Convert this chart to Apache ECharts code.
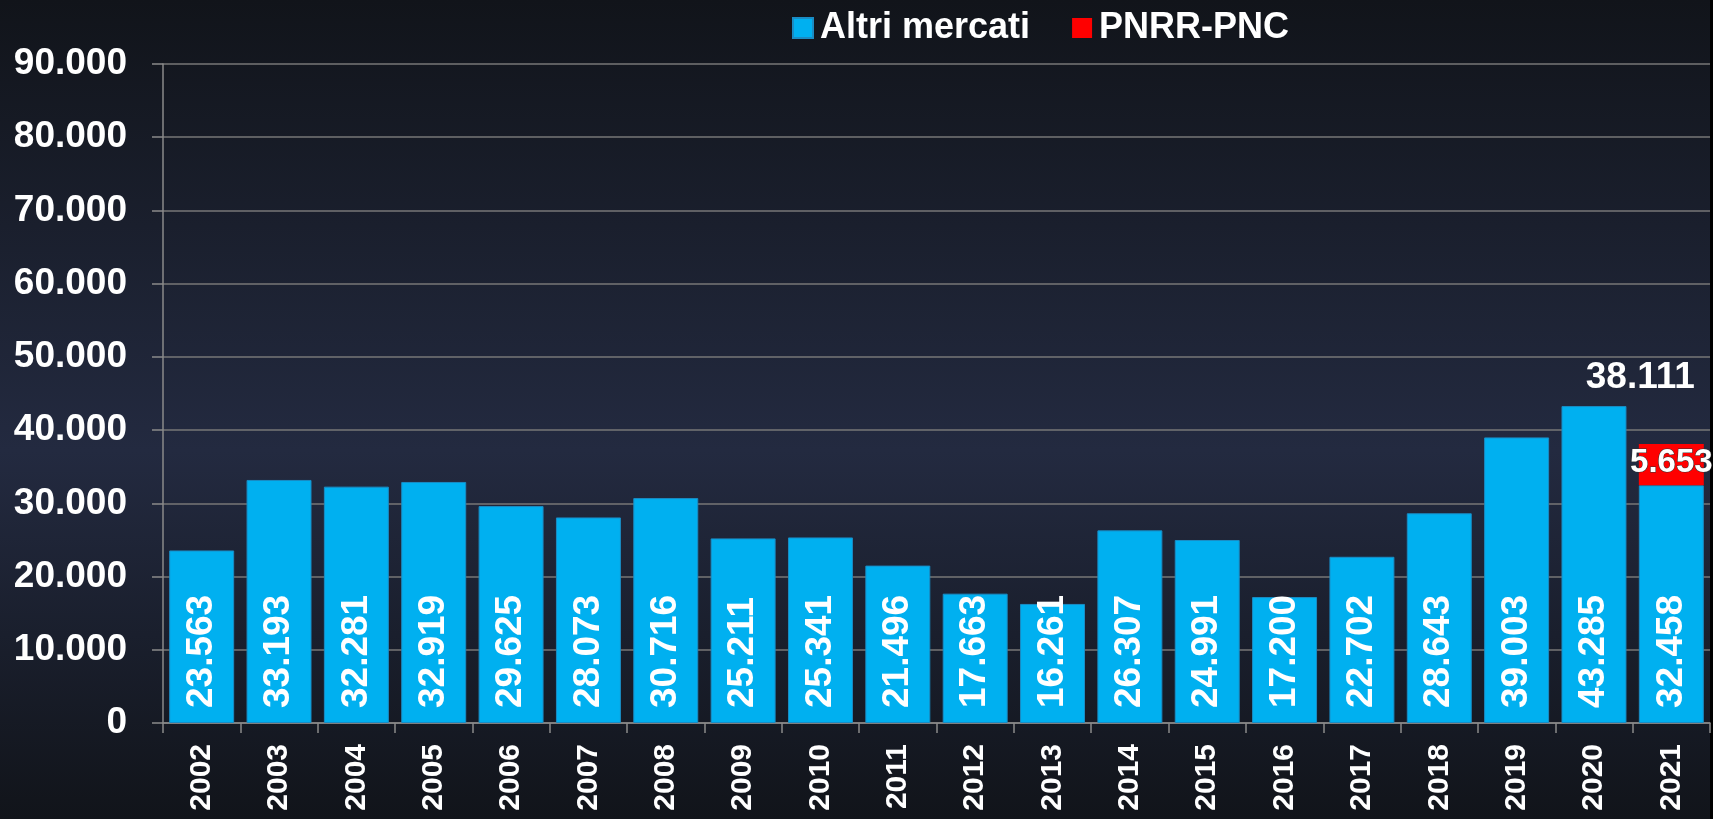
<!DOCTYPE html>
<html>
<head>
<meta charset="utf-8">
<script src="https://cdn.jsdelivr.net/npm/echarts@6/dist/echarts.min.js"></script>
<style>
	html, body { margin: 0; padding: 0; background: #11141a; }
	#chart { width: 1713px; height: 819px; }
</style>
</head>
<body>
<div id="chart"></div>
<script>
	// dati
	var anni = ['2002','2003','2004','2005','2006','2007','2008','2009','2010','2011','2012','2013','2014','2015','2016','2017','2018','2019','2020','2021'];
	var altriMercati = [23563, 33193, 32281, 32919, 29625, 28073, 30716, 25211, 25341, 21496, 17663, 16261, 26307, 24991, 17200, 22702, 28643, 39003, 43285, 32458];
	var pnrrPnc = [null, null, null, null, null, null, null, null, null, null, null, null, null, null, null, null, null, null, null, 5653];
	var yTicks = [0, 10000, 20000, 30000, 40000, 50000, 60000, 70000, 80000, 90000];

	var font = '"Liberation Sans", Arial, sans-serif';

	// separatore delle migliaia con il punto
	function fmt(v) {
		return String(Math.round(v)).replace(/\B(?=(\d{3})+(?!\d))/g, '.');
	}

	var last = anni.length - 1;
	var totale2021 = altriMercati[last] + pnrrPnc[last];

	var chart = echarts.init(document.getElementById('chart'));
	chart.setOption({
		backgroundColor: new echarts.graphic.LinearGradient(0, 0, 0, 1, [
			{ offset: 0, color: '#11141a' },
			{ offset: 0.55, color: '#232a40' },
			{ offset: 1, color: '#11141a' }
		]),
		animation: false,
		graphic: [{
			type: 'rect',
			right: 0, top: 0,
			shape: { width: 3, height: 819 },
			style: { fill: '#000' }
		}],
		legend: {
			data: ['Altri mercati', 'PNRR-PNC'],
			left: 787,
			top: 5,
			itemWidth: 20,
			itemHeight: 20,
			itemGap: 42,
			icon: 'rect',
			textStyle: {
				color: '#fff',
				fontFamily: font,
				fontWeight: 'bold',
				fontSize: 36,
				lineHeight: 36,
				padding: [0, 0, 0, 2]
			}
		},
		grid: {
			left: 163,
			right: 3,
			top: 64,
			bottom: 96
		},
		xAxis: {
			type: 'category',
			data: anni,
			axisLine: { lineStyle: { color: '#8a8a8a', width: 1.5 } },
			axisTick: { show: true, length: 10, lineStyle: { color: '#8a8a8a', width: 1.5 } },
			axisLabel: {
				rotate: 90,
				margin: 21,
				color: '#fff',
				fontFamily: font,
				fontWeight: 'bold',
				fontSize: 30
			}
		},
		yAxis: {
			type: 'value',
			min: yTicks[0],
			max: yTicks[yTicks.length - 1],
			interval: 10000,
			axisLine: { show: true, lineStyle: { color: '#8a8a8a', width: 1.5 } },
			axisTick: { show: true, length: 11, lineStyle: { color: '#8a8a8a', width: 1.5 } },
			splitLine: { lineStyle: { color: '#777', width: 1.5 } },
			axisLabel: {
				margin: 36,
				color: '#fff',
				fontFamily: font,
				fontWeight: 'bold',
				fontSize: 37,
				formatter: function (v) { return fmt(v); }
			}
		},
		series: [{
			name: 'Altri mercati',
			type: 'bar',
			stack: 'tot',
			data: altriMercati,
			barCategoryGap: '16%',
			itemStyle: { color: '#00b0f0', borderColor: '#1a8cc4', borderWidth: 1 },
			label: {
				show: true,
				position: 'insideBottom',
				rotate: 90,
				align: 'left',
				verticalAlign: 'middle',
				distance: 15,
				color: '#fff',
				fontFamily: font,
				fontWeight: 'bold',
				fontSize: 37,
				formatter: function (p) { return fmt(p.value); }
			}
		}, {
			name: 'PNRR-PNC',
			type: 'bar',
			stack: 'tot',
			data: pnrrPnc,
			itemStyle: { color: '#ff0000' },
			label: {
				show: true,
				position: 'insideTop',
				distance: 2,
				color: '#fff',
				fontFamily: font,
				fontWeight: 'bold',
				fontSize: 33,
				textBorderColor: '#333',
				textBorderWidth: 1,
				formatter: function (p) { return p.value == null ? '' : fmt(p.value); }
			},
			markPoint: {
				symbolSize: 0,
				data: [{
					coord: [anni[last], totale2021],
					value: totale2021
				}],
				label: {
					show: true,
					position: 'inside',
					offset: [-31, -66],
					color: '#fff',
					fontFamily: font,
					fontWeight: 'bold',
					fontSize: 37,
					formatter: function (p) { return fmt(p.value); }
				}
			}
		}]
	});
</script>
</body>
</html>
